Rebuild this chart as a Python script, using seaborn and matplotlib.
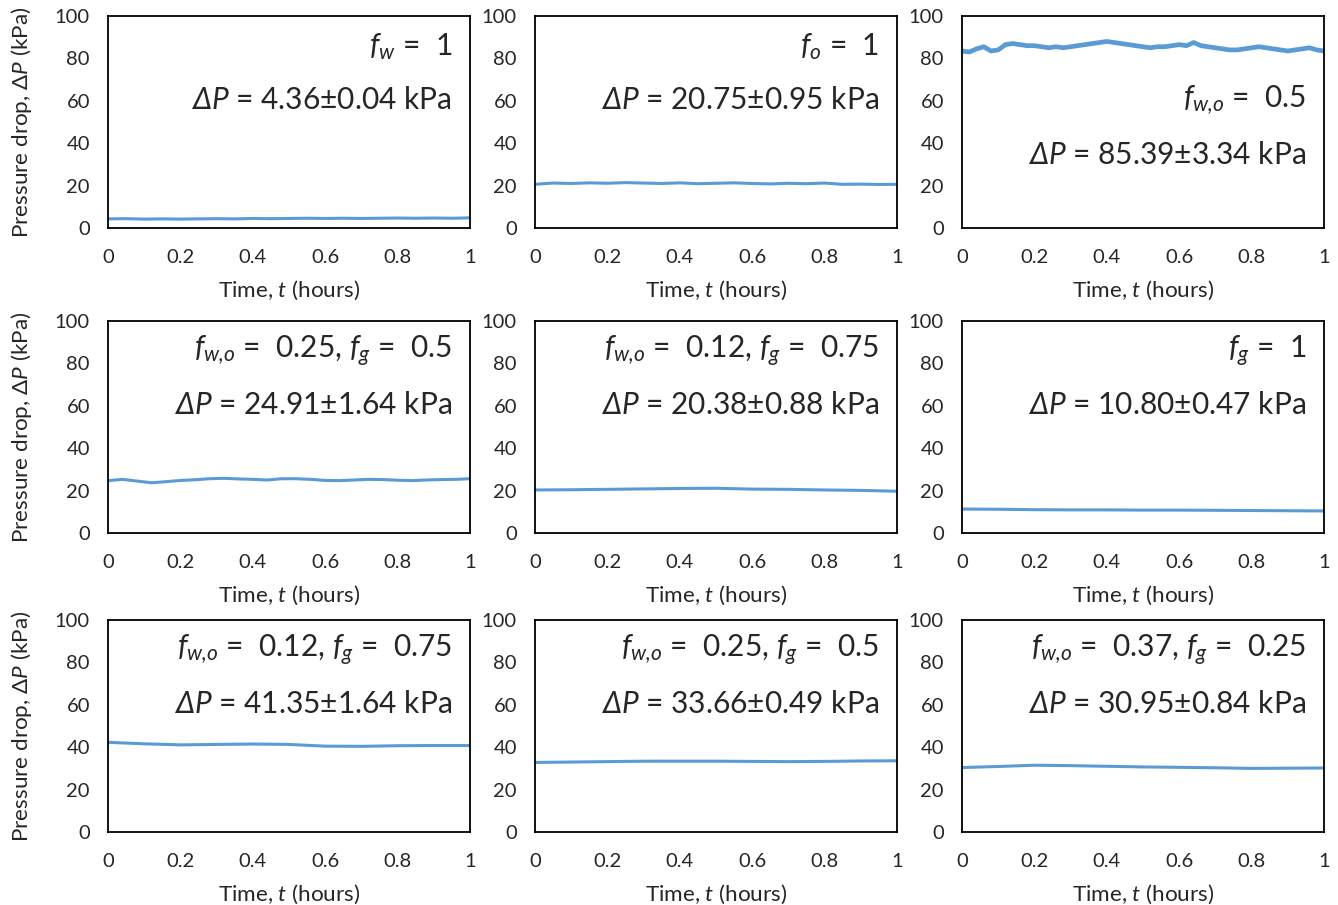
import numpy as np
import matplotlib.pyplot as plt
import seaborn as sns

sns.set_style("white")
plt.rcParams['font.family'] = ['Lato', 'DejaVu Sans']
plt.rcParams['mathtext.fontset'] = 'custom'
plt.rcParams['mathtext.rm'] = 'Lato'
plt.rcParams['mathtext.it'] = 'Lato:italic'
plt.rcParams['mathtext.sf'] = 'Lato:italic'

# Pressure drop readings (kPa) per run
dp_water = [4.3, 4.4, 4.2, 4.3, 4.2, 4.3, 4.4, 4.3, 4.5, 4.4, 4.5,
            4.6, 4.5, 4.6, 4.5, 4.6, 4.7, 4.6, 4.7, 4.6, 4.8]
dp_oil = [20.6, 21.2, 21.0, 21.3, 21.1, 21.4, 21.2, 21.0, 21.3, 20.9, 21.1,
          21.3, 21.0, 20.8, 21.1, 20.9, 21.2, 20.6, 20.7, 20.5, 20.6]
dp_wo = [83.5, 83.0, 84.5, 85.5, 83.5, 84.0, 86.5, 87.0, 86.5, 86.0, 86.0,
         85.5, 85.0, 85.5, 85.0, 85.5, 86.0, 86.5, 87.0, 87.5, 88.0,
         87.5, 87.0, 86.5, 86.0, 85.5, 85.0, 85.5, 85.5, 86.0, 86.5,
         86.0, 87.5, 86.0, 85.5, 85.0, 84.5, 84.0, 84.0, 84.5, 85.0,
         85.5, 85.0, 84.5, 84.0, 83.5, 84.0, 84.5, 85.0, 84.0, 83.5]
dp_wo25_g50 = [24.7, 25.3, 24.5, 23.7, 24.2, 24.8, 25.1, 25.6, 25.8, 25.5, 25.3,
               25.0, 25.6, 25.6, 25.3, 24.8, 24.7, 25.0, 25.3, 25.2, 24.9,
               24.7, 25.0, 25.2, 25.3, 25.6]
dp_wo12_g75 = [20.3, 20.4, 20.6, 20.8, 21.0, 21.1, 20.7, 20.6, 20.3, 20.1, 19.7]
dp_gas = [11.3, 11.2, 11.0, 10.9, 10.9, 10.8, 10.8, 10.7, 10.6, 10.5, 10.4]
dp_wo12_g75_b = [42.3, 41.6, 41.1, 41.3, 41.5, 41.3, 40.5, 40.4, 40.7, 40.8, 40.8]
dp_wo25_g50_b = [32.8, 33.0, 33.2, 33.4, 33.4, 33.4, 33.3, 33.2, 33.3, 33.5, 33.6]
dp_wo37_g25 = [30.4, 30.9, 31.5, 31.3, 31.0, 30.7, 30.5, 30.3, 30.0, 30.1, 30.2]

series = [dp_water, dp_oil, dp_wo, dp_wo25_g50, dp_wo12_g75, dp_gas,
          dp_wo12_g75_b, dp_wo25_g50_b, dp_wo37_g25]

frac_labels = [r"$\mathsf{f_{w}}$ =  1",
               r"$\mathsf{f_{o}}$ =  1",
               r"$\mathsf{f_{w{,}o}}$ =  0.5",
               r"$\mathsf{f_{w{,}o}}$ =  0.25, $\mathsf{f_{g}}$ =  0.5",
               r"$\mathsf{f_{w{,}o}}$ =  0.12, $\mathsf{f_{g}}$ =  0.75",
               r"$\mathsf{f_{g}}$ =  1",
               r"$\mathsf{f_{w{,}o}}$ =  0.12, $\mathsf{f_{g}}$ =  0.75",
               r"$\mathsf{f_{w{,}o}}$ =  0.25, $\mathsf{f_{g}}$ =  0.5",
               r"$\mathsf{f_{w{,}o}}$ =  0.37, $\mathsf{f_{g}}$ =  0.25"]
dp_labels = ["4.36±0.04", "20.75±0.95", "85.39±3.34",
             "24.91±1.64", "20.38±0.88", "10.80±0.47",
             "41.35±1.64", "33.66±0.49", "30.95±0.84"]

line_color = "#5b9bd5"
W, H = 1338, 905
fig = plt.figure(figsize=(W / 100, H / 100), dpi=100)

col_left = [108, 535, 962]
row_top = [16, 321, 620]
ax_w, ax_h = 362, 212

for i, vals in enumerate(series):
    r, c = divmod(i, 3)
    ax = fig.add_axes([col_left[c] / W, 1 - (row_top[r] + ax_h) / H, ax_w / W, ax_h / H])
    t = np.linspace(0, 1, len(vals))
    lw = 3.4 if i == 2 else 2.2
    sns.lineplot(x=t, y=vals, ax=ax, color=line_color, linewidth=lw)
    ax.set_xlim(0, 1)
    ax.set_ylim(0, 100)
    ax.set_xticks([0, 0.2, 0.4, 0.6, 0.8, 1])
    ax.set_xticklabels(["0", "0.2", "0.4", "0.6", "0.8", "1"])
    ax.set_yticks([0, 20, 40, 60, 80, 100])
    ax.tick_params(axis='x', direction='in', length=6, width=1.3, labelsize=14.5, pad=15)
    ax.tick_params(axis='y', direction='out', length=5, width=1.3, labelsize=14.5, pad=8)
    for sp in ax.spines.values():
        sp.set_color("black")
        sp.set_linewidth(1.3)
        sp.set_visible(True)
    ax.set_xlabel(r"Time, $\mathit{t}$ (hours)", fontsize=16.2, labelpad=9)
    if c == 0:
        ax.set_ylabel(r"Pressure drop, Δ$\mathit{P}$ (kPa)", fontsize=16.2, labelpad=15)
    else:
        ax.set_ylabel("")

    if i == 2:
        y1, y2 = 0.60, 0.345
    else:
        y1, y2 = 0.855, 0.605
    ax.text(0.95, y1, frac_labels[i], transform=ax.transAxes, ha='right', va='center', fontsize=21.5)
    ax.text(0.95, y2, r"$\mathsf{\Delta P}$ = " + dp_labels[i] + " kPa",
            transform=ax.transAxes, ha='right', va='center', fontsize=21.5)

plt.savefig("out.png", dpi=100)
plt.close()
print("Saved out.png")
